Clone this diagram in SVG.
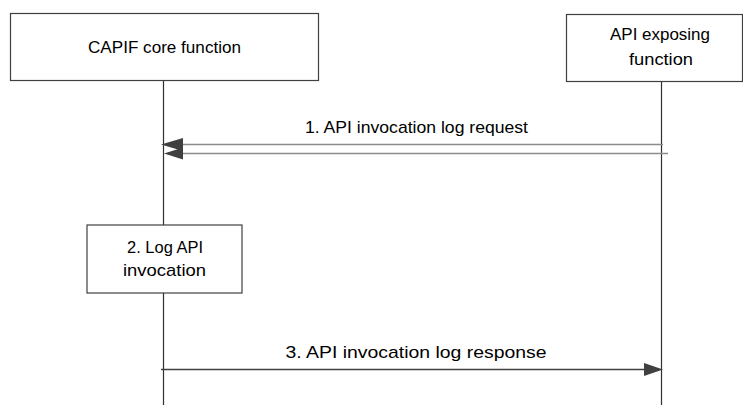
<svg xmlns="http://www.w3.org/2000/svg" width="743" height="405" viewBox="0 0 743 405">
<style>
.box{fill:#fff;stroke:#404040;stroke-width:1.2}
.life{stroke:#303030;stroke-width:1.2;fill:none}
.t{font-family:"Liberation Sans",Arial,sans-serif;font-size:17px;fill:#000;text-anchor:middle}
.gray{stroke:#8c8c8c;stroke-width:1.5;fill:none}
.dark{stroke:#404040;stroke-width:1.3;fill:none}
.head{fill:#404040}
</style>
<g id="lifelines">
<line class="life" x1="163.5" y1="80" x2="163.5" y2="405"/>
<line class="life" x1="661.5" y1="81" x2="661.5" y2="405"/>
</g>
<g id="capif">
<rect class="box" x="10.5" y="13.5" width="308" height="67"/>
<text class="t" x="164.5" y="53" textLength="153" lengthAdjust="spacingAndGlyphs">CAPIF core function</text>
</g>
<g id="aef">
<rect class="box" x="566.5" y="14.5" width="176" height="67"/>
<text class="t" x="660" y="40" textLength="100" lengthAdjust="spacingAndGlyphs">API exposing</text>
<text class="t" x="661" y="65" textLength="64" lengthAdjust="spacingAndGlyphs">function</text>
</g>
<g id="log">
<rect class="box" x="87" y="225" width="155" height="68"/>
<text class="t" x="165" y="253" textLength="76" lengthAdjust="spacingAndGlyphs">2. Log API</text>
<text class="t" x="164.5" y="276" textLength="83" lengthAdjust="spacingAndGlyphs">invocation</text>
</g>
<g id="connectors">
<line class="gray" x1="663" y1="144.5" x2="178" y2="144.5"/>
<polygon class="head" points="161,144.5 183,138 183,151"/>
<line class="gray" x1="668" y1="153.5" x2="180" y2="153.5"/>
<polygon class="head" points="164,153.5 183,147.5 183,159.5"/>
<text class="t" x="416.5" y="133" textLength="223" lengthAdjust="spacingAndGlyphs">1. API invocation log request</text>
<line class="dark" x1="161" y1="369.5" x2="648" y2="369.5"/>
<polygon class="head" points="663,369.5 644,363 644,376"/>
<text class="t" x="416" y="358" textLength="261" lengthAdjust="spacingAndGlyphs">3. API invocation log response</text>
</g>
</svg>
